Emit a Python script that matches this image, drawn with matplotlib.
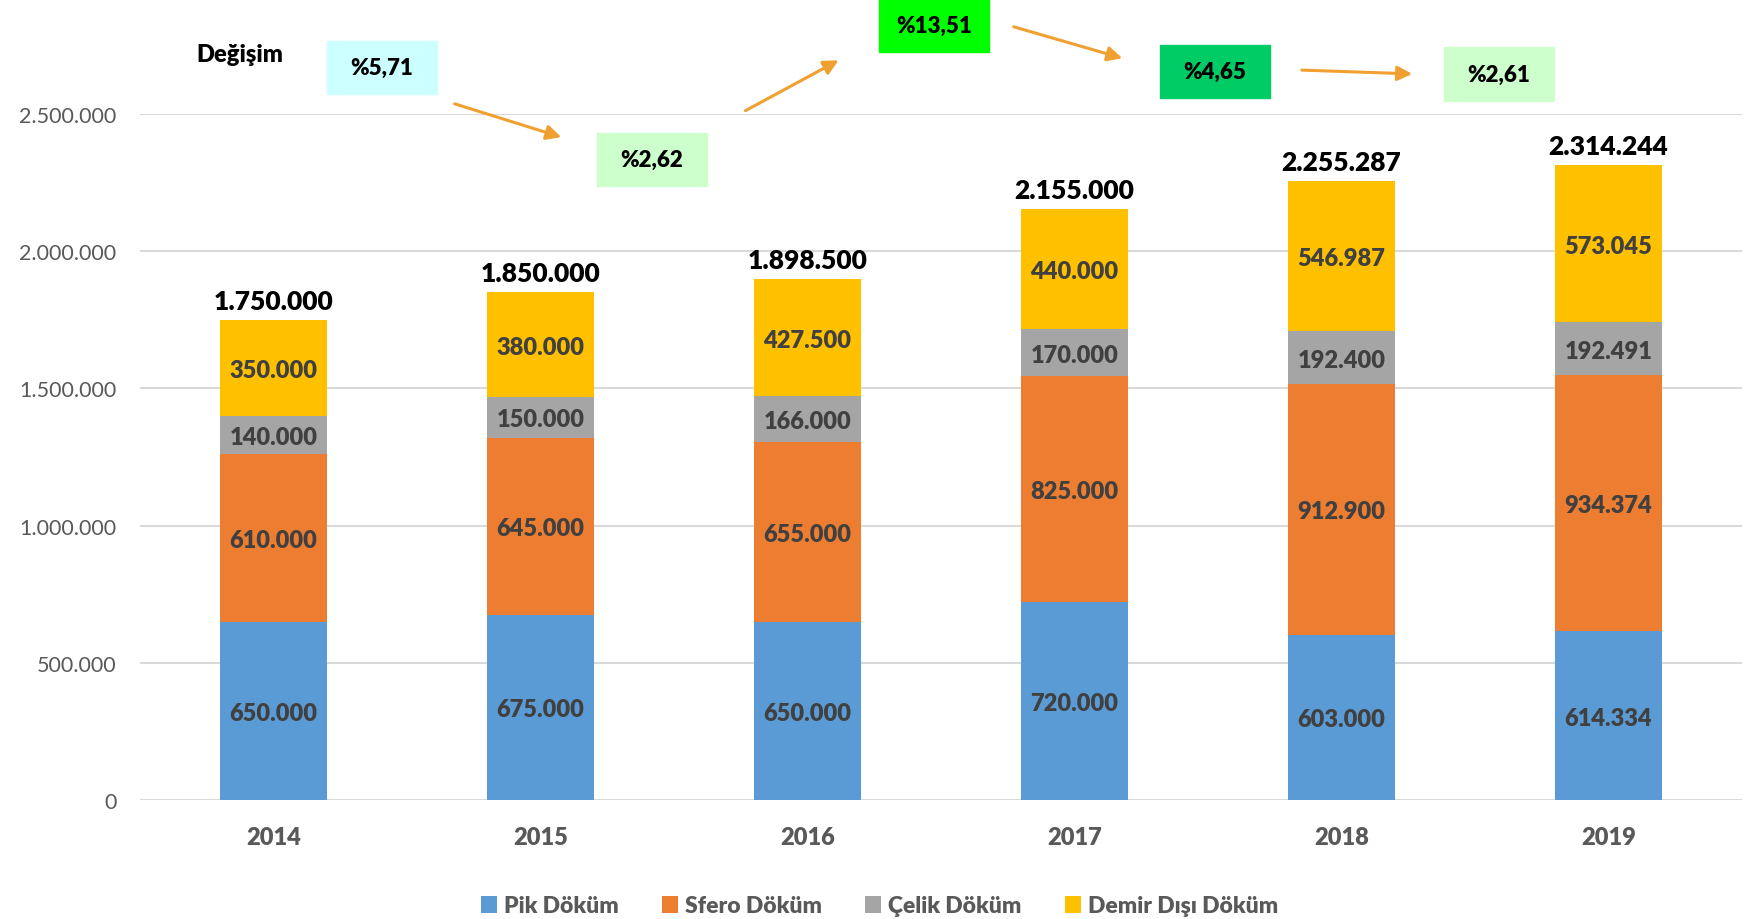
import numpy as np
import matplotlib.pyplot as plt

years = ["2014", "2015", "2016", "2017", "2018", "2019"]
pik = [650000, 675000, 650000, 720000, 603000, 614334]
sfero = [610000, 645000, 655000, 825000, 912900, 934374]
celik = [140000, 150000, 166000, 170000, 192400, 192491]
demir = [350000, 380000, 427500, 440000, 546987, 573045]
series_names = ["Pik Döküm", "Sfero Döküm", "Çelik Döküm", "Demir Dışı Döküm"]
colors = ["#5B9BD5", "#ED7D31", "#A5A5A5", "#FFC000"]
changes = ["%5,71", "%2,62", "%13,51", "%4,65", "%2,61"]
change_colors = ["#CCFFFF", "#CCFFCC", "#00FF00", "#00CC66", "#CCFFCC"]

plt.rcParams['font.family'] = ['Lato', 'DejaVu Sans']

W, H = 1759, 920
fig = plt.figure(figsize=(W / 100, H / 100), dpi=100)
ax = fig.add_axes([140 / W, 1 - 801 / H, 1602 / W, (801 - 115) / H])


def fmt(v):
    return f"{v:,.0f}".replace(",", ".")


x = np.arange(len(years))
bottom = np.zeros(len(years))
for vals, name, col in zip([pik, sfero, celik, demir], series_names, colors):
    vals = np.array(vals, dtype=float)
    ax.bar(x, vals, 0.4, bottom=bottom, color=col, label=name, zorder=3)
    for xi, b, v in zip(x, bottom, vals):
        ax.annotate(fmt(v), (xi, b + v / 2), xytext=(0, -1.5),
                    textcoords='offset points', ha='center', va='center',
                    fontsize=17, fontweight='heavy', color='#404040', zorder=4)
    bottom += vals

for xi, t in zip(x, bottom):
    ax.annotate(fmt(t), (xi, t), xytext=(0, 5), textcoords='offset points',
                ha='center', va='bottom', fontsize=19, fontweight='heavy',
                color='black', annotation_clip=False)

ax.set_xlim(-0.5, len(years) - 0.5)
ax.set_ylim(0, 2500000)
ax.set_yticks(np.arange(0, 2500001, 500000))
ax.set_yticklabels([fmt(v) for v in ax.get_yticks()], fontsize=15.5, color='#595959')
ax.set_xticks(x)
ax.set_xticklabels(years, fontsize=17, fontweight='heavy', color='#595959')
ax.tick_params(length=0)
ax.tick_params(axis='x', pad=19)
ax.tick_params(axis='y', pad=17)
ax.grid(axis='y', color='#D9D9D9', lw=1.5, zorder=0)
for s in ax.spines.values():
    s.set_visible(False)

# legend
leg = fig.legend(loc='center', bbox_to_anchor=(0.5, 1 - 907 / H), ncol=4,
                 frameon=False, handlelength=0.7, handleheight=0.7,
                 handletextpad=0.3, columnspacing=1.9,
                 prop={'size': 16.5, 'weight': 'heavy'})
for t in leg.get_texts():
    t.set_color('#595959')


# change boxes above the bars (positions in figure pixels)
def fp(px, py):
    return (px / W, 1 - py / H)


fig.text(*fp(240, 55), "Değişim", fontsize=17, fontweight='heavy',
         ha='center', va='center')
box_pos = [(382, 68), (652, 160), (934, 26), (1215, 72), (1499, 75)]
for (bx, by), lab, col in zip(box_pos, changes, change_colors):
    fig.patches.append(plt.Rectangle(fp(bx - 55, by + 26.5), 110 / W, 53 / H,
                                     transform=fig.transFigure, color=col,
                                     zorder=5))
    fig.text(*fp(bx, by), lab, fontsize=16, fontweight='heavy', ha='center',
             va='center', zorder=6)

arrows = [((452, 104), (564, 139)), ((743, 113), (841, 60)),
          ((1011, 27), (1125, 60)), ((1299, 71), (1415, 75))]
for (p0, p1) in arrows:
    fig.add_artist(plt.matplotlib.patches.FancyArrowPatch(
        fp(*p0), fp(*p1), transform=fig.transFigure, arrowstyle='-|>',
        mutation_scale=22, color='#F0A030', lw=2.2))

fig.savefig("out.png", dpi=100)
